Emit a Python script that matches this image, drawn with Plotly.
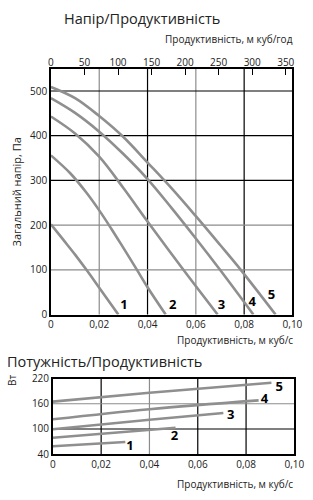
import plotly.graph_objects as go

# ---------------- data ----------------
# Pressure curves (Pa) vs flow (m3/s)
p1_x = [0, 0.005, 0.010, 0.0147, 0.020, 0.0279]
p1_y = [202, 168, 134, 100, 60, 0]
p2_x = [0, 0.008, 0.0145, 0.020, 0.025, 0.030, 0.0355, 0.040, 0.0475]
p2_y = [356, 316, 274, 233, 192, 149, 101, 61, 0]
p3_x = [0, 0.010, 0.020, 0.030, 0.040, 0.055, 0.069]
p3_y = [443, 405, 353, 283, 208, 99, 0]
p4_x = [0, 0.010, 0.020, 0.030, 0.040, 0.050, 0.060, 0.070, 0.0838]
p4_y = [484, 451, 409, 359, 303, 238, 170, 100, 0]
p5_x = [0, 0.010, 0.020, 0.030, 0.040, 0.050, 0.060, 0.070, 0.0786, 0.093]
p5_y = [509, 484, 444, 397, 340, 282, 220, 156, 100, 0]
press_x = [p1_x, p2_x, p3_x, p4_x, p5_x]
press_y = [p1_y, p2_y, p3_y, p4_y, p5_y]

# Power curves (W) vs flow (m3/s)
w_x = [[0, 0.030], [0, 0.0508], [0, 0.040, 0.0706], [0, 0.040, 0.0852], [0, 0.040, 0.0905]]
w_y = [[59, 69], [79, 103], [99.5, 122, 138], [123, 147, 168], [165, 186, 210]]

labels = ["1", "2", "3", "4", "5"]
press_lab_x = [0.0302, 0.0504, 0.0706, 0.0833, 0.0913]
press_lab_y = [20, 20, 20, 27, 41]
pow_lab_x = [0.0319, 0.0504, 0.0737, 0.0876, 0.0937]
pow_lab_y = [57, 81, 131, 170, 198]

x_ticks = [0, 0.02, 0.04, 0.06, 0.08, 0.10]
x_ticktext = ["0", "0,02", "0,04", "0,06", "0,08", "0,10"]
top_ticks = [0, 50, 100, 150, 200, 250, 300, 350]
p_ticks = [0, 100, 200, 300, 400, 500]
w_ticks = [40, 100, 160, 220]

# gridlines: (value, colour)
GRAY = "#8c8c8c"
top_vgrid = [(0.02, GRAY), (0.04, "black"), (0.06, GRAY), (0.08, "black")]
top_hgrid = [(100, GRAY), (200, GRAY), (300, "black"), (400, "black"), (500, "black")]
bot_vgrid = [(0.02, "black"), (0.04, GRAY), (0.06, "black"), (0.08, "black")]
bot_hgrid = [(100, "black"), (160, GRAY)]

# ---------------- figure ----------------
FONT = "Open Sans"
CURVE = "#8f8f8f"
fig = go.Figure()

for xs, ys in zip(press_x, press_y):
    fig.add_trace(go.Scatter(x=xs, y=ys, mode="lines",
                             line=dict(color=CURVE, width=2.6, shape="spline", smoothing=1.0),
                             xaxis="x", yaxis="y", showlegend=False, hoverinfo="skip"))
fig.add_trace(go.Scatter(x=press_lab_x, y=press_lab_y, text=labels, mode="text",
                         textfont=dict(family=FONT, size=13, color="black", weight="bold"),
                         xaxis="x", yaxis="y", showlegend=False))
for xs, ys in zip(w_x, w_y):
    fig.add_trace(go.Scatter(x=xs, y=ys, mode="lines", line=dict(color=CURVE, width=2.6, shape="spline"),
                             xaxis="x2", yaxis="y2", showlegend=False, hoverinfo="skip"))
fig.add_trace(go.Scatter(x=pow_lab_x, y=pow_lab_y, text=labels, mode="text",
                         textfont=dict(family=FONT, size=13, color="black", weight="bold"),
                         xaxis="x2", yaxis="y2", showlegend=False))
# invisible trace to activate the top (m3/h) axis
fig.add_trace(go.Scatter(x=[0, 360], y=[None, None], xaxis="x3", yaxis="y", showlegend=False,
                         hoverinfo="skip"))

shapes = []
for v, c in top_vgrid:
    shapes.append(dict(type="line", xref="x", yref="y domain", x0=v, x1=v, y0=0, y1=1,
                       line=dict(color=c, width=1.2), layer="below"))
for v, c in top_hgrid:
    shapes.append(dict(type="line", xref="x domain", yref="y", x0=0, x1=1, y0=v, y1=v,
                       line=dict(color=c, width=1.2), layer="below"))
for v, c in bot_vgrid:
    shapes.append(dict(type="line", xref="x2", yref="y2 domain", x0=v, x1=v, y0=0, y1=1,
                       line=dict(color=c, width=1.2), layer="below"))
for v, c in bot_hgrid:
    shapes.append(dict(type="line", xref="x2 domain", yref="y2", x0=0, x1=1, y0=v, y1=v,
                       line=dict(color=c, width=1.2), layer="below"))

tickfont = dict(family=FONT, size=10, color="#222")
axline = dict(showline=True, linecolor="black", linewidth=1.6, mirror=True, showgrid=False, zeroline=False)

fig.update_layout(
    width=313, height=500, margin=dict(l=0, r=0, t=0, b=0),
    paper_bgcolor="white", plot_bgcolor="white",
    font=dict(family=FONT, color="#222"),
    shapes=shapes,
    xaxis=dict(domain=[50/313, 302/313], anchor="y", range=[0, 0.1], tickvals=x_ticks, ticktext=x_ticktext,
               ticks="", tickfont=tickfont, **axline),
    yaxis=dict(domain=[1-316/500, 1-63/500], anchor="x", range=[0, 549], tickvals=p_ticks, ticks="",
               tickfont=tickfont, title=dict(text="Загальний напір, Па", font=dict(family=FONT, size=11), standoff=6),
               **axline),
    xaxis3=dict(overlaying="x", side="top", anchor="y", range=[0, 360], tickvals=top_ticks,
                ticks="inside", ticklen=6, tickcolor="black", tickwidth=1.3, tickfont=tickfont,
                showline=False, showgrid=False, zeroline=False),
    xaxis2=dict(domain=[52/313, 304/313], anchor="y2", range=[0, 0.1], tickvals=x_ticks, ticktext=x_ticktext,
                ticks="", tickfont=tickfont, **axline),
    yaxis2=dict(domain=[40/500, 118/500], anchor="x2", range=[40, 220], tickvals=w_ticks, ticks="",
                tickfont=tickfont, **axline),
    annotations=[
        dict(text="Напір/Продуктивність", x=145/313, y=1-11/500, xref="paper", yref="paper",
             showarrow=False, font=dict(family=FONT, size=14.5, color="#222"), xanchor="center", yanchor="middle"),
        dict(text="Продуктивність, м куб/год", x=305/313, y=1-32/500, xref="paper", yref="paper",
             showarrow=False, font=dict(family=FONT, size=10, color="#222"), xanchor="right", yanchor="middle"),
        dict(text="Продуктивність, м куб/с", x=305/313, y=1-342/500, xref="paper", yref="paper",
             showarrow=False, font=dict(family=FONT, size=10, color="#222"), xanchor="right", yanchor="middle"),
        dict(text="Потужність/Продуктивність", x=2/313, y=1-364/500, xref="paper", yref="paper",
             showarrow=False, font=dict(family=FONT, size=14.5, color="#222"), xanchor="left", yanchor="middle"),
        dict(text="Вт", x=10/313, y=1-384/500, xref="paper", yref="paper", textangle=-90,
             showarrow=False, font=dict(family=FONT, size=10, color="#222"), xanchor="center", yanchor="middle"),
        dict(text="Продуктивність, м куб/с", x=305/313, y=1-491/500, xref="paper", yref="paper",
             showarrow=False, font=dict(family=FONT, size=10, color="#222"), xanchor="right", yanchor="middle"),
    ],
)

fig.write_html("out.html")
